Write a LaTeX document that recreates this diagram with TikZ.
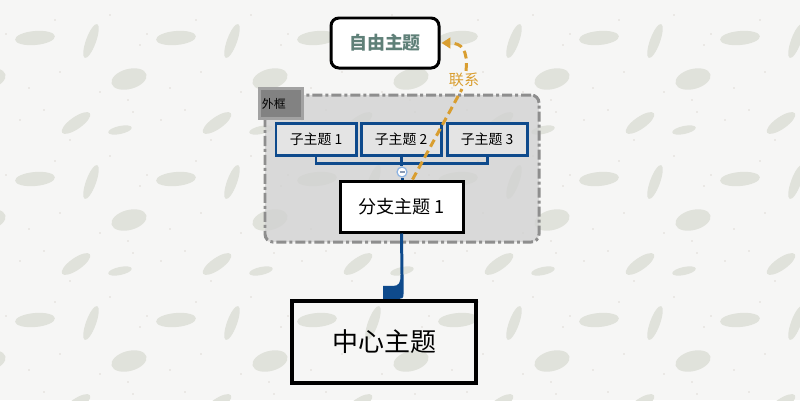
\documentclass[tikz,border=0pt]{standalone}
\usepackage{fontspec}
\setmainfont{Noto Sans CJK SC}
\usetikzlibrary{arrows.meta,calc}
\definecolor{paper}{HTML}{F6F6F5}
\definecolor{leaf}{HTML}{E0E2DB}
\definecolor{speck}{HTML}{C3BDB0}
\definecolor{branchblue}{HTML}{0E4A8C}
\definecolor{relorange}{HTML}{D99E30}
\definecolor{freetext}{HTML}{5F8078}
\definecolor{framegray}{HTML}{8E8E8E}
\definecolor{framefill}{HTML}{D2D2D2}
\definecolor{tagfill}{HTML}{828282}
\definecolor{tagline}{HTML}{A2A2A2}
\definecolor{togglering}{HTML}{8DB3E2}
\definecolor{toggleminus}{HTML}{8A9BB5}
\tikzset{
  x=0.02cm, y=-0.02cm,
  topicbox/.style={draw=black, line width=1.7pt, fill=white, inner sep=0pt},
  subbox/.style={draw=branchblue, line width=1.7pt, fill=framefill!60!white,
    minimum width=80*0.02cm, minimum height=32*0.02cm, inner sep=0pt,
    font=\fontsize{7.9pt}{9pt}\selectfont},
  bracket/.style={draw=branchblue, line width=1.7pt},
  relline/.style={draw=relorange, line width=1.7pt, dash pattern=on 4.5pt off 2.6pt},
  leafshape/.style={fill=leaf, draw=none},
}
\begin{document}
\begin{tikzpicture}
% paper background with a repeating feather pattern
\fill[paper] (0,0) rectangle (800,400);
\useasboundingbox (0,0) rectangle (800,400);
\begin{scope}
\clip (0,0) rectangle (800,400);
\foreach \i in {-1,...,6}{
  \foreach \j in {-1,...,3}{
    \begin{scope}[shift={(\i*141,\j*141)}]
      \fill[leafshape,rotate around={5:(35,38)}] (35,38) ellipse [x radius=20, y radius=7];
      \fill[leafshape,rotate around={70:(91,41)}] (91,41) ellipse [x radius=18, y radius=5];
      \fill[leafshape,rotate around={15:(129,79)}] (129,79) ellipse [x radius=18, y radius=10];
      \fill[leafshape,rotate around={35:(76,123)}] (76,123) ellipse [x radius=17, y radius=6];
      \fill[leafshape,rotate around={12:(120,130)}] (120,130) ellipse [x radius=12, y radius=4];
      \foreach \p in {(29,88),(60,72),(128,100),(44,110),(20,120),(6,34),(140,45),(110,15),(70,140),(100,92),(55,20),(133,112)}
        \fill[speck] \p circle [radius=0.7];
    \end{scope}
  }
}
\end{scope}

% outer frame and its tag
\node[draw=framegray, line width=1.7pt, rounded corners=4.5pt,
      dash pattern=on 5.7pt off 1.7pt on 1.7pt off 1.7pt,
      fill=framefill, fill opacity=0.8, draw opacity=1,
      minimum width=274*0.02cm, minimum height=147*0.02cm, inner sep=0pt]
  (frame) at (402,168.5) {};
\node[draw=tagline, line width=1.5pt, fill=tagfill, minimum width=43*0.02cm,
      minimum height=30*0.02cm, inner sep=0pt, text=black,
      font=\fontsize{6.8pt}{8pt}\selectfont, anchor=west]
  (tag) at (258,103.5) {\hspace*{-8pt}外框};

% free topic
\node[topicbox, rounded corners=4.5pt, minimum width=108*0.02cm,
      minimum height=50*0.02cm, text=freetext,
      font=\fontsize{10.2pt}{12pt}\selectfont\bfseries]
  (free) at (385,43) {自由主题};

% sub topics
\node[subbox] (s1) at (316,139) {子主题 1};
\node[subbox] (s2) at (401,139) {子主题 2};
\node[subbox] (s3) at (487,139) {子主题 3};

% branch topic and central topic
\node[topicbox, minimum width=123*0.02cm, minimum height=51*0.02cm,
      font=\fontsize{10.3pt}{12pt}\selectfont]
  (b1) at (401.5,206.5) {分支主题 1};
\node[draw=black, line width=2.3pt, minimum width=184*0.02cm,
      minimum height=82*0.02cm, inner sep=0pt,
      font=\fontsize{14.8pt}{17pt}\selectfont]
  (main) at (384,342) {中心主题};

% collapse toggle and bracket connector
\coordinate (bar) at (401,163);
\node[circle, draw=togglering, fill=white, line width=0.7pt,
      minimum size=10*0.02cm, inner sep=0pt] (toggle) at (402,172) {};
\draw[bracket] (s1.south) |- (bar) -| (s3.south);
\draw[bracket] (s2.south) -- (s2.south |- toggle.north);
\draw[bracket] (toggle.south) -- (toggle.south |- b1.north);
\draw[toggleminus, line width=0.6pt] ([xshift=-0.05cm]toggle.center) -- ([xshift=0.05cm]toggle.center);

% branch to central topic: thin stem widening into a foot
\coordinate (stemtop) at (b1.south);
\coordinate (foot) at ($(main.north)+(17,0)$);
\draw[branchblue, line width=1.7pt] (stemtop) -- ($(foot)+(1,-24)$);
\fill[branchblue] ($(foot)+(-0.5,-24)$) -- ($(foot)+(2.5,-24)$) -- ($(foot)+(2.5,-5)$)
   .. controls ($(foot)+(2.5,-1)$) and ($(foot)+(1,0)$) .. ($(foot)+(-2,0)$)
   -- ($(foot)+(-18,0)$) -- ($(foot)+(-18,-13)$) -- ($(foot)+(-8,-13)$)
   .. controls ($(foot)+(-1.5,-13)$) and ($(foot)+(-0.5,-17)$) .. ($(foot)+(-0.5,-24)$) -- cycle;

% relationship from branch topic to free topic
\node[text=relorange, font=\fontsize{8.6pt}{10pt}\selectfont, inner sep=1pt]
  (rel) at (464,80) {联系};
\draw[relline] ($(b1.north)+(11,0)$) -- ($(rel.south)+(-2,0)$);
\draw[relline, -{Triangle[length=5pt,width=6pt]}]
  ($(rel.north)+(2,0)$) .. controls (468,50) and (462,43) .. ($(free.east)+(1,0)$);
\end{tikzpicture}
\end{document}
